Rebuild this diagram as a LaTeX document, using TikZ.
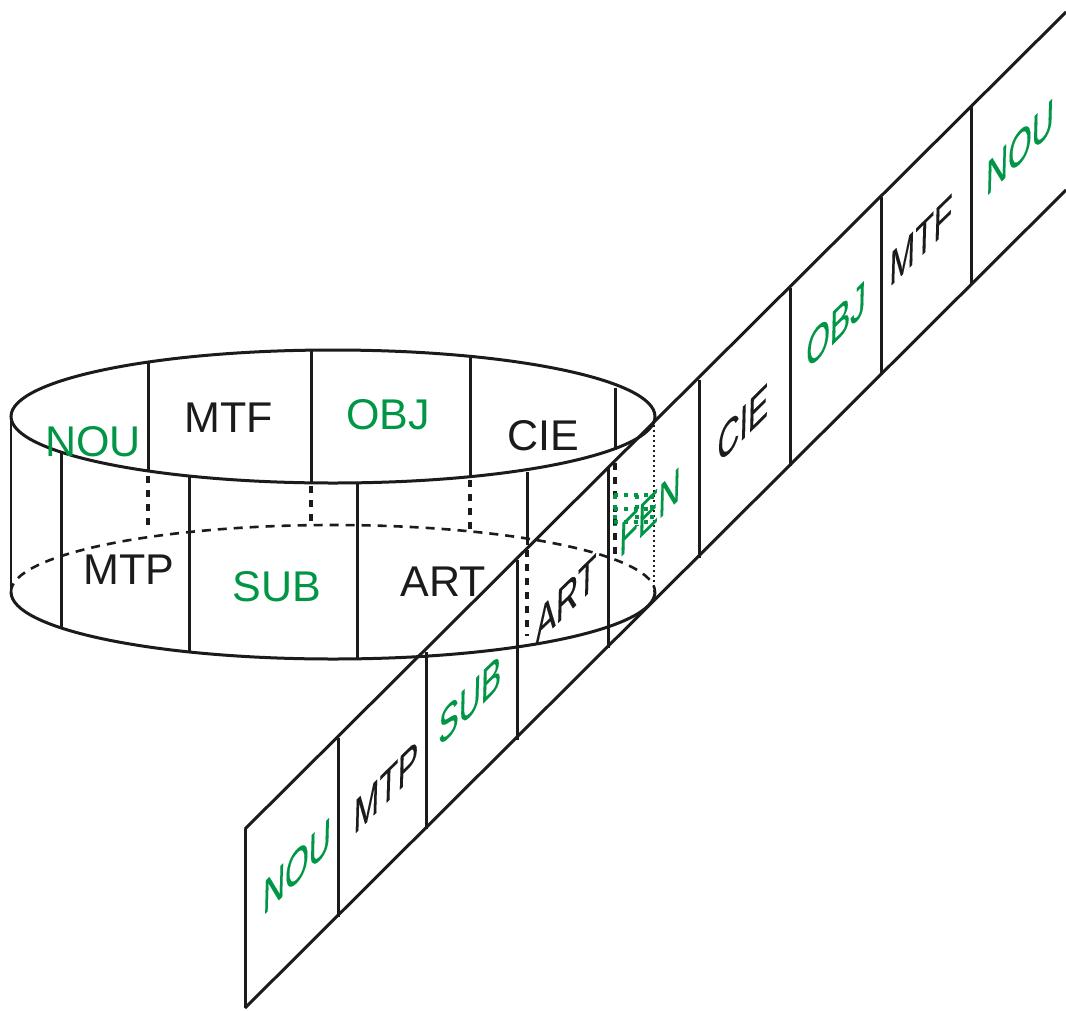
\documentclass[tikz,border=0pt]{standalone}
\usepackage{fontspec}
\setmainfont{Liberation Sans}
\newfontfamily\bandfont[FakeBold=0.2]{Liberation Sans}
\definecolor{lab}{RGB}{0,150,70}
\definecolor{ink}{RGB}{28,26,26}
\tikzset{
 edge/.style={line width=3pt,ink},
 thinedge/.style={line width=1.6pt,ink},
 hid/.style={line width=3.2pt,ink,dash pattern=on 7pt off 7pt},
 hidarc/.style={line width=2.6pt,ink,dash pattern=on 9pt off 7pt},
 fine/.style={line width=1.5pt,ink,dash pattern=on 2pt off 3pt},
 gdot/.style={line width=3.8pt,lab,dash pattern=on 4pt off 6pt},
 ring/.style={font=\fontsize{43}{43}\selectfont,inner sep=0pt,text=ink},
 ringg/.style={ring,text=lab},
 band/.style={font=\bandfont\fontsize{43}{43}\selectfont,inner sep=0pt,text=ink,cm={0.71,0.70,0.03,1.13,(0,0)}},
 bandg/.style={band,text=lab},
}
\begin{document}
\begin{tikzpicture}[x=1pt,y=-1pt]
\useasboundingbox (0,0) rectangle (1066,1010);
\fill[white] (0,0) rectangle (1066,1010);
\coordinate (c1) at (333,416.5);
% ring
\draw[edge] (c1) ellipse [x radius=322,y radius=66.5];
\draw[edge] (11,592) arc[start angle=180,end angle=0,x radius=322,y radius=67];
\draw[hidarc] (11,592) arc[start angle=180,end angle=360,x radius=322,y radius=67];
\draw[thinedge] (11,416) -- (11,592);
\foreach \x/\a/\b in {61/452/627,189/476/651,357/482/659,148/362/472,311/350/483,470/357/477,527/472/545,615/388/450}
  \draw[edge] (\x,\a) -- (\x,\b);
\foreach \x/\a/\b in {148/476/532,311/486/525,470/480/530,527/550/636,615/463/556}
  \draw[hid] (\x,\a) -- (\x,\b);
\draw[fine] (654,425) -- (654,600);
% band
\draw[edge] (245,829) -- (1066,12);
\draw[edge] (245,1008) -- (1066,190);
\draw[edge] (245,829) -- (245,1008);
\foreach \x/\a/\b in {338/738/917,426/652/829,517/560/740,608/468/648,699/380/558,790/288/466,881/197/375,971/107/285}
  \draw[edge] (\x,\a) -- (\x,\b);
% green dotted
\draw[gdot] (614,495) -- (654,495);
\draw[gdot] (614,509) -- (650,509);
\draw[gdot] (614,522) -- (654,522);
\draw[gdot] (615,495) -- (615,526);
\draw[gdot] (637,495) -- (637,526);
\draw[gdot] (652,495) -- (652,526);
% labels
\node[ringg] (n1) at (93,442) {NOU};
\node[ring] (n2) at (229,418) {MTF};
\node[ringg] (n3) at (388,415) {OBJ};
\node[ring] (n4) at (543,436) {CIE};
\node[ring] (n5) at (129,570) {MTP};
\node[ringg] (n6) at (277,587) {SUB};
\node[ring] (n7) at (443,582) {ART};
\node[bandg] (s1) at (297,866) {NOU};
\node[band] (s2) at (386,787) {MTP};
\node[bandg] (s3) at (470,700) {SUB};
\node[band] (s4) at (566,599) {ART};
\node[bandg] (s5) at (650,512) {FEN};
\node[band] (s6) at (743,423) {CIE};
\node[bandg] (s7) at (836,325) {OBJ};
\node[band] (s8) at (921,240) {MTF};
\node[bandg] (s9) at (1020,147) {NOU};
\end{tikzpicture}
\end{document}
